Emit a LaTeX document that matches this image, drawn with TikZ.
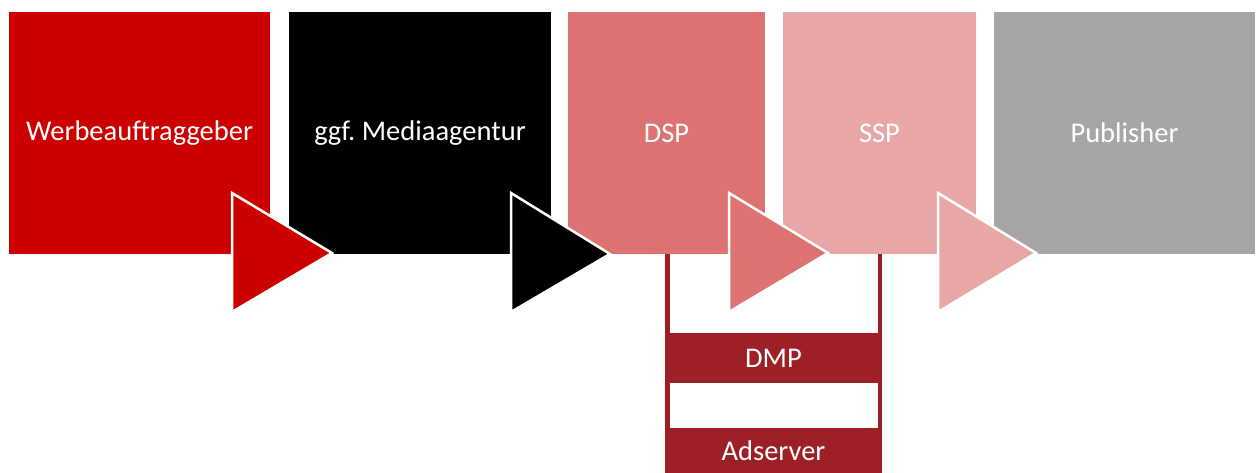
\documentclass[tikz,border=0pt]{standalone}
\usepackage{fontspec}
\setmainfont{Carlito}
\frenchspacing
\definecolor{cred}{HTML}{CC0000}
\definecolor{cdsp}{HTML}{DC7372}
\definecolor{cssp}{HTML}{E8A6A7}
\definecolor{cpub}{HTML}{A6A6A6}
\definecolor{cdark}{HTML}{9D2026}
\begin{document}
\begin{tikzpicture}[x=1pt,y=-1pt,
  box/.style={rectangle,inner sep=0pt,outer sep=0pt,text=white,font=\fontsize{28.5}{34}\selectfont,anchor=center},
  tri/.style={draw=white,line width=2.5pt,line join=miter},
  bar/.style={rectangle,inner sep=0pt,outer sep=0pt,fill=cdark,text=white,font=\fontsize{28.5}{34}\selectfont}]
\useasboundingbox (0,0) rectangle (1256,473);
% DMP / Adserver frame
\fill[cdark] (665,245) rectangle (882,473);
\fill[white] (670,245) rectangle (878,333);
\fill[white] (670,383) rectangle (878,428);
\node[bar,minimum width=217pt,minimum height=50pt] (dmp) at (773.5,358) {DMP};
\node[bar,minimum width=217pt,minimum height=45pt] (ads) at (773.5,450.5) {Adserver};
% boxes
\node[box,fill=cred,minimum width=261pt,minimum height=242pt] (wb) at (139.5,133) {Werbeauftraggeber};
\node[box,fill=black,minimum width=262pt,minimum height=242pt] (ma) at (420,133) {ggf. Mediaagentur};
\node[box,fill=cdsp,minimum width=197pt,minimum height=242pt] (dsp) at (666.5,133) {DSP};
\node[box,fill=cssp,minimum width=193pt,minimum height=242pt] (ssp) at (879.5,133) {SSP};
\node[box,fill=cpub,minimum width=261pt,minimum height=242pt] (pub) at (1124.5,133) {Publisher};
% triangles
\filldraw[tri,fill=cred] (232,193) -- (332,253) -- (232,312) -- cycle;
\filldraw[tri,fill=black] (511,193) -- (610,254) -- (511,312) -- cycle;
\filldraw[tri,fill=cdsp] (729,193) -- (828,253) -- (729,312) -- cycle;
\filldraw[tri,fill=cssp] (938,193) -- (1036,253) -- (938,312) -- cycle;
\end{tikzpicture}
\end{document}
